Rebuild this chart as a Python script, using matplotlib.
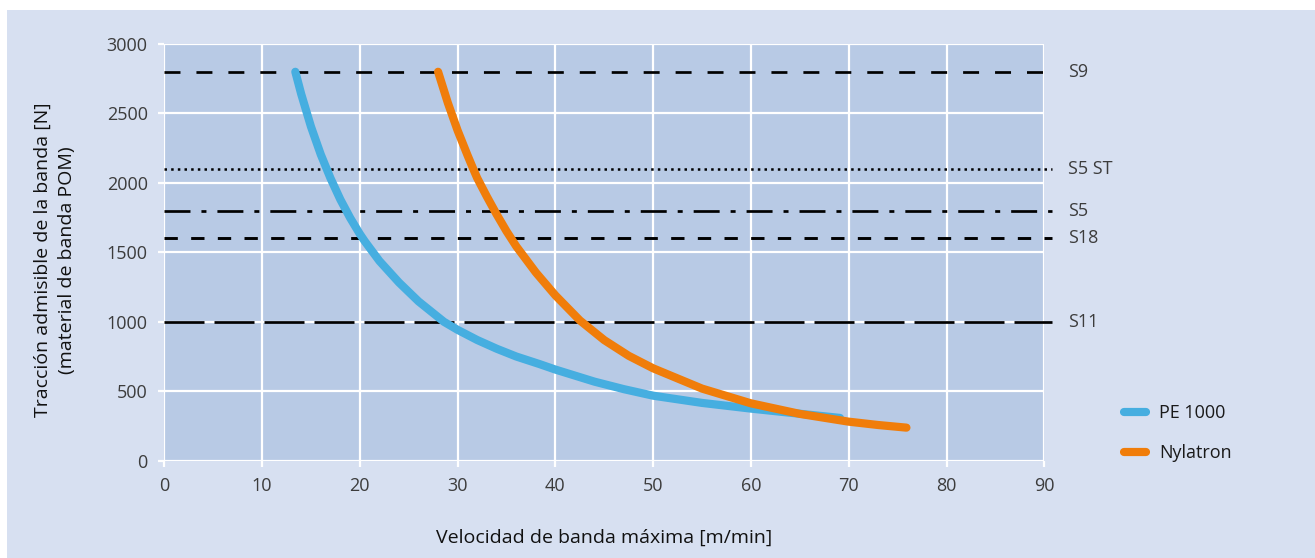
import matplotlib
matplotlib.use("Agg")
import matplotlib.pyplot as plt
from matplotlib.patches import Rectangle

plt.rcParams['font.family'] = ['Open Sans', 'DejaVu Sans']
plt.rcParams['lines.scale_dashes'] = False

# ---------------- data ----------------
pe_speed = [13.4, 14.0, 15.0, 16.0, 17.0, 18.0, 19.0, 20.0, 20.5, 22.0, 24.0,
            26.0, 28.6, 30.0, 32.0, 34.0, 36.0, 38.4, 40.0, 44.0, 47.0, 50.0,
            55.0, 60.0, 65.0, 69.1]
pe_force = [2800, 2640, 2405, 2205, 2033, 1881, 1749, 1632, 1580, 1438, 1283,
            1147, 1000, 942, 869, 806, 750, 695, 656, 569, 515, 468,
            416, 375, 338, 308]

ny_speed = [28.0, 29.0, 30.0, 31.0, 31.6, 32.0, 33.0, 34.0, 35.0, 36.0, 38.0,
            40.0, 42.5, 45.0, 47.5, 50.0, 55.0, 60.0, 65.0, 70.0, 73.0, 75.9]
ny_force = [2800, 2576, 2377, 2201, 2100, 2035, 1900, 1772, 1652, 1543, 1355,
            1190, 1010, 868, 755, 665, 519, 413, 337, 281, 257, 238]

ref_names = ['S9', 'S5 ST', 'S5', 'S18', 'S11']
ref_values = [2800, 2100, 1800, 1600, 1000]

series_names = ['PE 1000', 'Nylatron']
x_ticks = [0, 10, 20, 30, 40, 50, 60, 70, 80, 90]
y_ticks = [0, 500, 1000, 1500, 2000, 2500, 3000]

x_label = 'Velocidad de banda máxima [m/min]'
y_label = 'Tracción admisible de la banda [N]\n(material de banda POM)'

# ---------------- style ----------------
W, H = 1315, 558
outer_bg = '#d7e0f1'
plot_bg = '#b8cae5'
blue = '#46aee0'
orange = '#f07d0a'
txt_gray = '#3c3c3c'

ref_styles = [
    (0, (11.5, 11.5)),
    (0, (1.8, 3.0)),
    (0, (18.7, 7.9, 3.6, 7.9)),
    (0, (9.6, 9.6)),
    (0, (28.8, 7.2)),
]
ref_lw = [1.95, 1.8, 1.95, 2.1, 1.95]

fig = plt.figure(figsize=(W / 100, H / 100), dpi=100, facecolor='white')
bg = Rectangle((7 / W, 0), 1 - 7 / W, (H - 10) / H,
               transform=fig.transFigure, facecolor=outer_bg,
               edgecolor='none', zorder=-10)
fig.add_artist(bg)

ax = fig.add_axes([164.3 / W, (H - 460.7) / H, 880 / W, (460.7 - 44) / H])
ax.set_zorder(1)
ax.set_facecolor(plot_bg)
ax.set_xlim(0, 90)
ax.set_ylim(0, 3000)
ax.set_xticks(x_ticks)
ax.set_yticks(y_ticks)
for s in ax.spines.values():
    s.set_visible(False)
ax.grid(True, color='white', linewidth=1.6)
ax.set_axisbelow(True)
ax.tick_params(axis='both', colors='white', length=4, width=1.6,
               labelcolor=txt_gray, labelsize=13)
ax.tick_params(axis='x', pad=8)
ax.tick_params(axis='y', pad=8)

# reference lines
for name, val, ls, lw in zip(ref_names, ref_values, ref_styles, ref_lw):
    ax.plot([0, 90.75], [val, val], color='black', linestyle=ls,
            linewidth=lw, clip_on=False, zorder=3, solid_capstyle='butt',
            dash_capstyle='butt')
    ax.text(92.4, val, name, fontsize=13, color=txt_gray, va='center',
            ha='left', clip_on=False)

# curves
l1, = ax.plot(pe_speed, pe_force, color=blue, linewidth=5.9,
              solid_capstyle='round', solid_joinstyle='round', zorder=4,
              label=series_names[0])
l2, = ax.plot(ny_speed, ny_force, color=orange, linewidth=5.9,
              solid_capstyle='round', solid_joinstyle='round', zorder=5,
              label=series_names[1])

ax.set_xlabel(x_label, fontsize=14, color='#111111', labelpad=24)
fig.text(55 / W, 1 - 260 / H, y_label, rotation=90, fontsize=14,
         color='#111111', ha='center', va='center', multialignment='center',
         linespacing=1.4)

leg = fig.legend(handles=[l1, l2], loc='center left',
                 bbox_to_anchor=(1124 / W, 1 - 433 / H), frameon=False,
                 fontsize=13, handlelength=1.2, handletextpad=0.75,
                 labelspacing=1.2, borderaxespad=0, borderpad=0)
for t in leg.get_texts():
    t.set_color('#1a1a1a')

fig.savefig('out.png', dpi=100, facecolor='white')
